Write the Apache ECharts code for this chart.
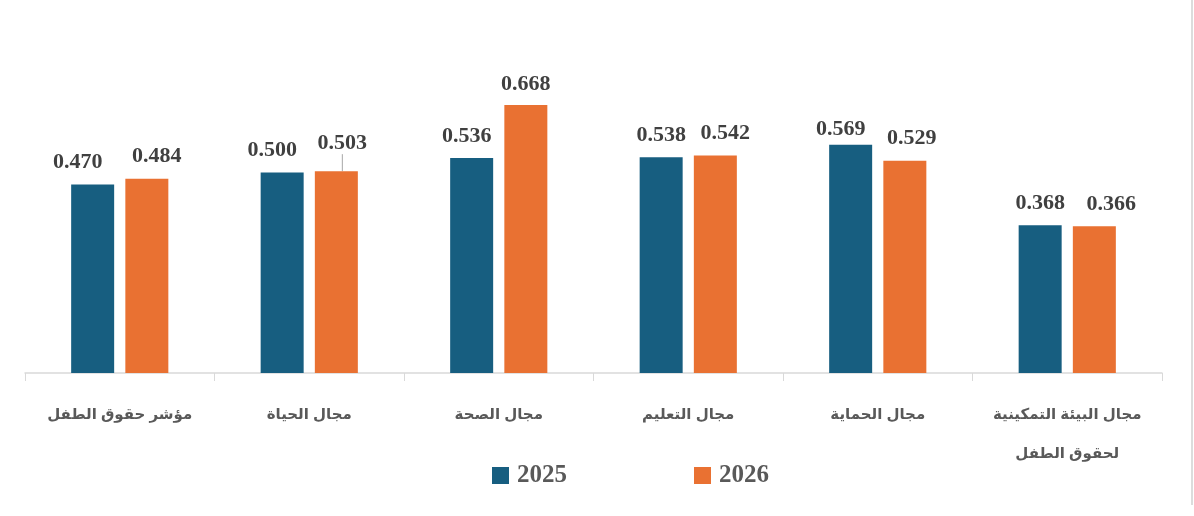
<!DOCTYPE html>
<html>
<head>
<meta charset="utf-8">
<script src="https://cdn.jsdelivr.net/npm/echarts@6/dist/echarts.min.js"></script>
<style>
html, body { margin: 0; padding: 0; background: #fff; }
#main { width: 1194px; height: 516px; }
</style>
</head>
<body>
<div id="main"></div>
<script>
var categories = ['مؤشر حقوق الطفل', 'مجال الحياة', 'مجال الصحة', 'مجال التعليم', 'مجال الحماية', 'مجال البيئة التمكينية\nلحقوق الطفل'];
var values2025 = [0.470, 0.500, 0.536, 0.538, 0.569, 0.368];
var values2026 = [0.484, 0.503, 0.668, 0.542, 0.529, 0.366];
var seriesNames = ['2025', '2026'];

// label nudges (px) as placed in the original
var labelShift2025 = [[-15, 0], [-10, 0], [-5, 0], [0, 0], [-10, 7], [0, 0]];
var labelShift2026 = [[10, 0], [6, -6], [0, 1], [10, 0], [7, 0], [17, 0]];

var serifFont = '"Liberation Serif", "Times New Roman", serif';

function makeLabel() {
    return {
        show: true,
        position: 'top',
        distance: 11,
        formatter: function (p) { return p.value.toFixed(3); },
        fontFamily: serifFont,
        fontWeight: 'bold',
        fontSize: 22,
        color: '#404040'
    };
}

function shiftLayout(shifts) {
    return function (params) {
        var s = shifts[params.dataIndex];
        return { dx: s[0], dy: s[1] };
    };
}

var myChart = echarts.init(document.getElementById('main'));
myChart.setOption({
    animation: false,
    color: ['#175E80', '#E97132'],
    grid: {
        left: 25,
        right: 32,
        top: 52,
        bottom: 143
    },
    legend: {
        data: seriesNames,
        top: 458,
        left: 487,
        itemWidth: 17,
        itemHeight: 17,
        itemGap: 127,
        icon: 'rect',
        textStyle: {
            fontFamily: serifFont,
            fontWeight: 'bold',
            fontSize: 25,
            color: '#595959',
            padding: [0, 0, 0, 3]
        }
    },
    xAxis: {
        type: 'category',
        data: categories,
        axisLine: { lineStyle: { color: '#d9d9d9', width: 1.5 } },
        axisTick: { show: true, interval: 0, length: 8, lineStyle: { color: '#d9d9d9' } },
        axisLabel: {
            interval: 0,
            margin: 22,
            fontFamily: 'Arial, "DejaVu Sans", sans-serif',
            fontWeight: 'bold',
            fontSize: 15,
            lineHeight: 39,
            color: '#595959'
        }
    },
    yAxis: {
        type: 'value',
        min: 0,
        max: 0.8,
        show: false,
        splitLine: { show: false }
    },
    graphic: [
        {
            type: 'line',
            shape: { x1: 1192, y1: 0, x2: 1192, y2: 505 },
            style: { stroke: '#d0d0d0', lineWidth: 1.5 }
        }
    ],
    series: [
        {
            name: seriesNames[0],
            type: 'bar',
            data: values2025,
            barWidth: 43,
            barGap: '26%',
            label: makeLabel(),
            labelLayout: shiftLayout(labelShift2025)
        },
        {
            name: seriesNames[1],
            type: 'bar',
            data: values2026.map(function (v, i) {
                if (i === 1) {
                    return { value: v, labelLine: { show: true } };
                }
                return v;
            }),
            barWidth: 43,
            label: makeLabel(),
            labelLine: { show: false, lineStyle: { color: '#a6a6a6', width: 1 } },
            labelLayout: shiftLayout(labelShift2026)
        }
    ]
});
</script>
</body>
</html>
